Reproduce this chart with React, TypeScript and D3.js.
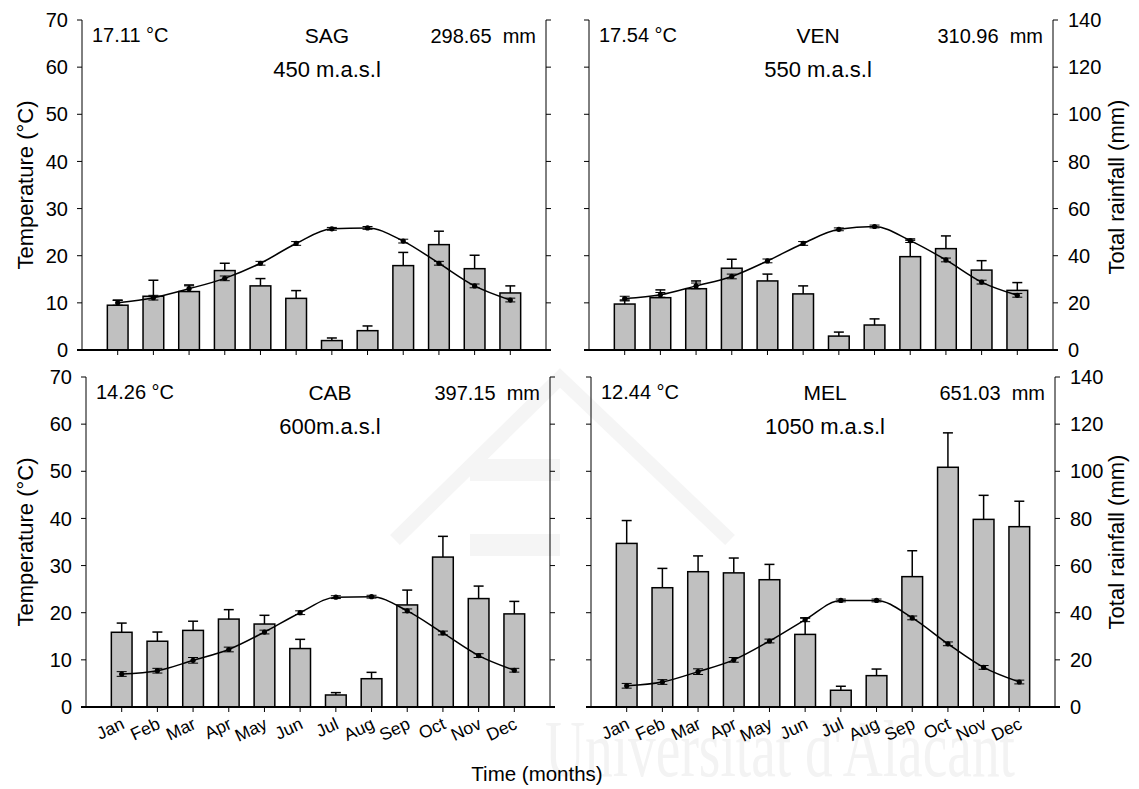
import React from "react";
import * as d3 from "d3";

const months = ["Jan", "Feb", "Mar", "Apr", "May", "Jun", "Jul", "Aug", "Sep", "Oct", "Nov", "Dec"];
const tempTicks = [0, 10, 20, 30, 40, 50, 60, 70];
const rainTicks = [0, 20, 40, 60, 80, 100, 120, 140];

const sagRain = [19.0, 22.8, 24.8, 33.7, 27.2, 21.9, 4.0, 8.2, 35.8, 44.7, 34.5, 24.2];
const sagRainErr = [2.2, 6.8, 2.8, 3.1, 3.1, 3.3, 1.1, 2.0, 5.6, 5.7, 5.7, 3.0];
const sagTemp = [10.0, 11.1, 13.0, 15.2, 18.4, 22.6, 25.7, 25.9, 23.1, 18.4, 13.6, 10.6];

const venRain = [19.5, 22.2, 26.0, 34.7, 29.3, 23.8, 5.9, 10.6, 39.6, 43.0, 33.9, 25.3];
const venRainErr = [1.7, 3.3, 3.3, 3.8, 2.9, 3.4, 1.7, 2.6, 7.0, 5.4, 4.0, 3.3];
const venTemp = [10.9, 11.7, 13.6, 15.6, 18.9, 22.6, 25.6, 26.2, 23.2, 19.1, 14.4, 11.6];

const cabRain = [31.7, 27.9, 32.5, 37.3, 35.2, 24.8, 5.1, 12.0, 43.3, 63.6, 46.0, 39.5];
const cabRainErr = [3.9, 3.9, 3.9, 4.0, 3.7, 3.9, 1.0, 2.7, 6.3, 8.8, 5.3, 5.3];
const cabTemp = [7.0, 7.7, 9.9, 12.2, 15.9, 20.0, 23.3, 23.4, 20.4, 15.7, 10.9, 7.8];

const melRain = [69.4, 50.6, 57.4, 56.9, 54.0, 30.8, 7.1, 13.3, 55.3, 101.7, 79.6, 76.5];
const melRainErr = [9.7, 8.2, 6.7, 6.3, 6.5, 7.0, 1.7, 2.8, 11.0, 14.6, 10.2, 10.8];
const melTemp = [4.5, 5.3, 7.5, 10.0, 14.0, 18.5, 22.6, 22.6, 18.9, 13.4, 8.4, 5.3];

const tempErr = [0.5, 0.5, 0.6, 0.5, 0.4, 0.4, 0.3, 0.3, 0.4, 0.4, 0.4, 0.4];

const panels = [
  { name: "SAG", elev: "450 m.a.s.l", meanT: "17.11 °C", total: "298.65  mm", rain: sagRain, rainErr: sagRainErr, temp: sagTemp,
    l: 82, r: 546, t: 20, b: 350, leftLab: true, rightLab: false, monthLab: false, dx: 13 },
  { name: "VEN", elev: "550 m.a.s.l", meanT: "17.54 °C", total: "310.96  mm", rain: venRain, rainErr: venRainErr, temp: venTemp,
    l: 589, r: 1053, t: 20, b: 350, leftLab: false, rightLab: true, monthLab: false, dx: -3 },
  { name: "CAB", elev: "600m.a.s.l", meanT: "14.26 °C", total: "397.15  mm", rain: cabRain, rainErr: cabRainErr, temp: cabTemp,
    l: 86, r: 550, t: 377, b: 707, leftLab: true, rightLab: false, monthLab: true, dx: 12 },
  { name: "MEL", elev: "1050 m.a.s.l", meanT: "12.44 °C", total: "651.03  mm", rain: melRain, rainErr: melRainErr, temp: melTemp,
    l: 591, r: 1055, t: 377, b: 707, leftLab: false, rightLab: true, monthLab: true, dx: 2 },
];

const FONT = "Arial, 'Liberation Sans', Helvetica, sans-serif";

function Panel({ p }: { p: any }) {
  const x = d3.scalePoint<string>().domain(months).range([p.l, p.r]).padding(1);
  const yT = d3.scaleLinear().domain([0, 70]).range([p.b, p.t]);
  const yR = d3.scaleLinear().domain([0, 140]).range([p.b, p.t]);
  const bw = x.step() * 0.58;
  const line = d3
    .line<number>()
    .x((_, i) => x(months[i])!)
    .y((d) => yT(d))
    .curve(d3.curveMonotoneX);
  const mid = (p.l + p.r) / 2 + p.dx;
  return (
    <g fontFamily={FONT}>
      {p.rain.map((v: number, i: number) => {
        const cx = x(months[i])!;
        const top = yR(v);
        const capY = yR(v + p.rainErr[i]);
        return (
          <g key={"b" + i}>
            <line x1={cx} x2={cx} y1={top} y2={capY} stroke="#000" strokeWidth={1.5} />
            <line x1={cx - 5} x2={cx + 5} y1={capY} y2={capY} stroke="#000" strokeWidth={1.5} />
            <rect x={cx - bw / 2} y={top} width={bw} height={p.b - top} fill="#c0c0c0" stroke="#000" strokeWidth={1.5} />
          </g>
        );
      })}
      <path d={line(p.temp) || ""} fill="none" stroke="#000" strokeWidth={1.5} />
      {p.temp.map((v: number, i: number) => {
        const cx = x(months[i])!;
        const e1 = yT(v + tempErr[i]);
        const e2 = yT(v - tempErr[i]);
        return (
          <g key={"t" + i}>
            <line x1={cx} x2={cx} y1={e1} y2={e2} stroke="#000" strokeWidth={1} />
            <line x1={cx - 5} x2={cx + 5} y1={e1} y2={e1} stroke="#000" strokeWidth={1} />
            <line x1={cx - 5} x2={cx + 5} y1={e2} y2={e2} stroke="#000" strokeWidth={1} />
            <circle cx={cx} cy={yT(v)} r={2.6} fill="#000" />
          </g>
        );
      })}
      <line x1={p.l} x2={p.l} y1={p.t} y2={p.b} stroke="#000" strokeWidth={1} />
      <line x1={p.r} x2={p.r} y1={p.t} y2={p.b} stroke="#000" strokeWidth={1} />
      <line x1={p.l - 5} x2={p.r + 5} y1={p.b} y2={p.b} stroke="#000" strokeWidth={2} />
      {tempTicks.map((t) => (
        <g key={"lt" + t}>
          <line x1={p.l - 5} x2={p.l} y1={yT(t)} y2={yT(t)} stroke="#000" strokeWidth={1} />
          {p.leftLab && (
            <text x={p.l - 14} y={yT(t)} dy="0.36em" textAnchor="end" fontSize={20} fill="#000">
              {t}
            </text>
          )}
        </g>
      ))}
      {rainTicks.map((t) => (
        <g key={"rt" + t}>
          <line x1={p.r} x2={p.r + 5} y1={yR(t)} y2={yR(t)} stroke="#000" strokeWidth={1} />
          {p.rightLab && (
            <text x={p.r + 15} y={yR(t)} dy="0.36em" textAnchor="start" fontSize={20} fill="#000">
              {t}
            </text>
          )}
        </g>
      ))}
      {months.map((m) => {
        const cx = x(m)!;
        return (
          <g key={"x" + m}>
            <line x1={cx} x2={cx} y1={p.b} y2={p.b + 5} stroke="#000" strokeWidth={1} />
            {p.monthLab && (
              <text
                transform={`translate(${cx + 4},${p.b + 21}) rotate(-25)`}
                textAnchor="end"
                fontSize={17.5}
                fill="#000"
              >
                {m}
              </text>
            )}
          </g>
        );
      })}
      <text x={p.l + 10} y={p.t + 22} fontSize={20} fill="#000">{p.meanT}</text>
      <text x={mid} y={p.t + 23} fontSize={21} textAnchor="middle" fill="#000">{p.name}</text>
      <text x={p.r - 10} y={p.t + 23} fontSize={20} textAnchor="end" fill="#000" style={{ whiteSpace: "pre" }}>{p.total}</text>
      <text x={mid} y={p.t + 57} fontSize={22} textAnchor="middle" fill="#000">{p.elev}</text>
    </g>
  );
}

export default function App() {
  return (
    <svg width={1139} height={789} style={{ position: "absolute", left: 0, top: 0, background: "#fff" }}>
      <rect x={0} y={0} width={1139} height={789} fill="#fff" />
      <g opacity={0.035} fill="none" stroke="#000" strokeWidth={14}>
        <path d="M 395 540 L 560 378 L 730 540" />
        <path d="M 470 470 L 560 470 M 470 545 L 560 545" strokeWidth={22} />
      </g>
      <text x={545} y={776} fontFamily="'Liberation Serif', 'Times New Roman', serif" fontSize={80}
        textLength={470} lengthAdjust="spacingAndGlyphs" fill="#f3f3f3">
        Universitat d'Alacant
      </text>
      {panels.map((p) => (
        <Panel key={p.name} p={p} />
      ))}
      <text transform="translate(33,185) rotate(-90)" textAnchor="middle" fontFamily={FONT} fontSize={22}>
        Temperature (°C)
      </text>
      <text transform="translate(33,542) rotate(-90)" textAnchor="middle" fontFamily={FONT} fontSize={22}>
        Temperature (°C)
      </text>
      <text transform="translate(1124,187) rotate(-90)" textAnchor="middle" fontFamily={FONT} fontSize={22}>
        Total rainfall (mm)
      </text>
      <text transform="translate(1124,542) rotate(-90)" textAnchor="middle" fontFamily={FONT} fontSize={22}>
        Total rainfall (mm)
      </text>
      <text x={537} y={781} textAnchor="middle" fontFamily={FONT} fontSize={20.5}>
        Time (months)
      </text>
    </svg>
  );
}
